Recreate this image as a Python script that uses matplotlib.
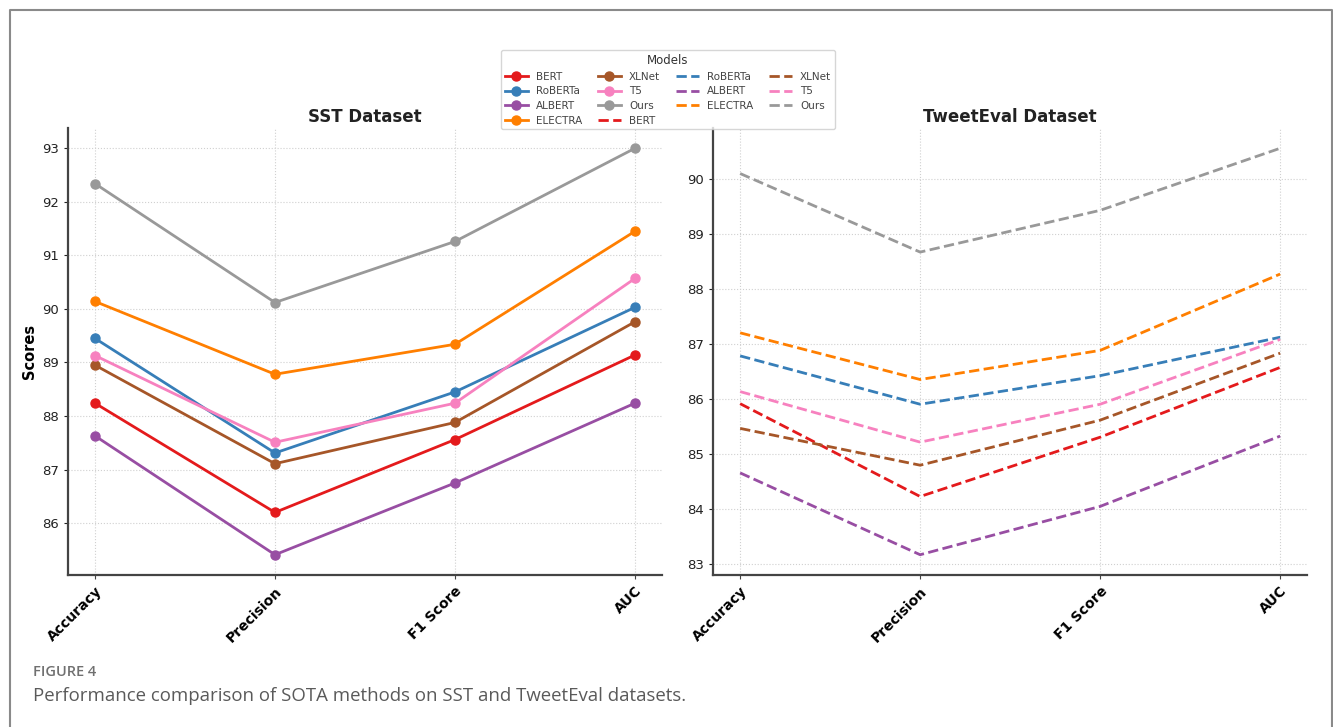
import matplotlib
matplotlib.use("Agg")
import matplotlib.pyplot as plt
from matplotlib.lines import Line2D

# Donnees
metrics = ["Accuracy", "Precision", "F1 Score", "AUC"]
models = ["BERT", "RoBERTa", "ALBERT", "ELECTRA", "XLNet", "T5", "Ours"]
colors = ["#e41a1c", "#377eb8", "#984ea3", "#ff7f00", "#a65628", "#f781bf", "#999999"]

sst_bert = [88.24, 86.20, 87.56, 89.14]
sst_roberta = [89.45, 87.31, 88.45, 90.03]
sst_albert = [87.63, 85.41, 86.75, 88.24]
sst_electra = [90.14, 88.78, 89.34, 91.45]
sst_xlnet = [88.95, 87.11, 87.88, 89.76]
sst_t5 = [89.13, 87.51, 88.24, 90.57]
sst_ours = [92.34, 90.12, 91.26, 93.00]

tw_bert = [85.91, 84.22, 85.30, 86.57]
tw_roberta = [86.78, 85.90, 86.42, 87.12]
tw_albert = [84.65, 83.16, 84.04, 85.32]
tw_electra = [87.20, 86.35, 86.88, 88.27]
tw_xlnet = [85.46, 84.79, 85.61, 86.83]
tw_t5 = [86.13, 85.21, 85.90, 87.08]
tw_ours = [90.10, 88.67, 89.43, 90.56]

sst = [sst_bert, sst_roberta, sst_albert, sst_electra, sst_xlnet, sst_t5, sst_ours]
tweet = [tw_bert, tw_roberta, tw_albert, tw_electra, tw_xlnet, tw_t5, tw_ours]

plt.rcParams["font.family"] = "DejaVu Sans"

fig = plt.figure(figsize=(13.33, 7.27), dpi=100)
ax1 = fig.add_axes([0.051, 0.209, 0.4456, 0.615])
ax2 = fig.add_axes([0.535, 0.209, 0.4456, 0.615])

handles = []
for name, col, vals in zip(models, colors, sst):
    h, = ax1.plot(metrics, vals, color=col, marker="o", markersize=6.5, linewidth=2, label=name)
    handles.append(h)
for name, col, vals in zip(models, colors, tweet):
    h, = ax2.plot(metrics, vals, color=col, linestyle="--", linewidth=2, label=name)
    handles.append(h)

for ax, titre in [(ax1, "SST Dataset"), (ax2, "TweetEval Dataset")]:
    ax.set_title(titre, fontsize=12, fontweight="bold", color="#222222", pad=4)
    ax.grid(True, linestyle=":", color="#d0d0d0", linewidth=0.8)
    ax.spines["top"].set_visible(False)
    ax.spines["right"].set_visible(False)
    ax.spines["left"].set_color("#444444")
    ax.spines["bottom"].set_color("#444444")
    ax.spines["left"].set_linewidth(1.6)
    ax.spines["bottom"].set_linewidth(1.6)
    ax.tick_params(axis="y", labelsize=9.5, colors="#222222", length=3)
    ax.tick_params(axis="x", length=3, color="#444444")
    for lbl in ax.get_xticklabels():
        lbl.set_rotation(45)
        lbl.set_ha("right")
        lbl.set_rotation_mode("anchor")
        lbl.set_fontweight("bold")
        lbl.set_fontsize(10)

ax1.set_ylabel("Scores", fontsize=10.5, fontweight="bold")

leg = fig.legend(handles=handles, labels=models + models, title="Models", ncol=4,
                 loc="upper center", bbox_to_anchor=(668 / 1333, 1 - 45 / 727),
                 fontsize=7.5, title_fontsize=8.5, frameon=True,
                 handlelength=2.2, columnspacing=1.5, labelspacing=0.45,
                 borderpad=0.35)
leg.get_frame().set_edgecolor("#cccccc")
leg.get_title().set_color("#333333")
for t in leg.get_texts():
    t.set_color("#444444")

# Cadre et legende de la figure
fig.add_artist(Line2D([9.5 / 1333, 9.5 / 1333, 1331.5 / 1333, 1331.5 / 1333],
                      [0, 1 - 10 / 727, 1 - 10 / 727, 0],
                      transform=fig.transFigure, color="#8a8a8a", linewidth=1.5))
fig.text(33 / 1333, 1 - 672 / 727, "FIGURE 4", fontsize=10.5, fontweight="semibold",
         color="#707070", va="center", family=["Open Sans", "DejaVu Sans"])
fig.text(33 / 1333, 1 - 696 / 727, "Performance comparison of SOTA methods on SST and TweetEval datasets.",
         fontsize=13.4, color="#5a5a5a", va="center", family=["Open Sans", "DejaVu Sans"])

fig.savefig("out.png", dpi=100)
